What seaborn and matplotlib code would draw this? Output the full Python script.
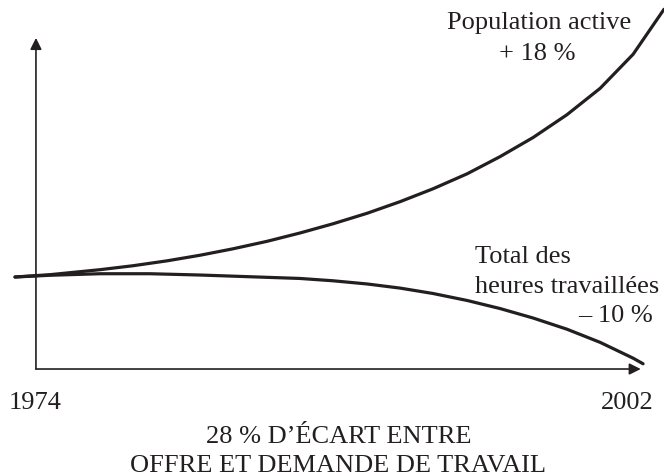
import matplotlib
matplotlib.use("Agg")
import matplotlib.pyplot as plt
import seaborn as sns
import pandas as pd

# values: year vs. % change from 1974 (schematic)
pop_years = [1973.01, 1974.66, 1977.03, 1978.59, 1980.20, 1981.76, 1983.32, 1984.93,
             1986.49, 1988.05, 1989.66, 1991.22, 1992.78, 1994.39, 1995.95, 1997.51,
             1999.11, 2000.68, 2002.24, 2003.70]
pop_values = [0.0, 0.27, 0.85, 1.31, 1.88, 2.53, 3.28, 4.15,
              5.12, 6.19, 7.41, 8.76, 10.26, 12.00, 14.00, 16.22,
              18.87, 21.94, 25.90, 31.13]

hours_years = [1973.01, 1974.66, 1977.03, 1979.39, 1981.76, 1984.12, 1986.49, 1988.05,
               1989.66, 1991.22, 1992.78, 1994.39, 1995.95, 1997.51, 1999.11, 2000.68,
               2002.24, 2002.71]
hours_values = [0.0, 0.20, 0.38, 0.38, 0.23, 0.03, -0.17, -0.44,
                -0.81, -1.29, -1.92, -2.73, -3.67, -4.77, -6.07, -7.60,
                -9.44, -10.09]

year_labels = ["1974", "2002"]
year_ticks = [1974, 2002]

pop = pd.DataFrame({"annee": pop_years, "val": pop_values})
hours = pd.DataFrame({"annee": hours_years, "val": hours_values})

sns.set_style("white")
plt.rcParams['font.family'] = ['Liberation Serif', 'DejaVu Serif']

ink = "#231f20"
fig = plt.figure(figsize=(6.64, 4.76), dpi=100)
ax = fig.add_axes([0, 0, 1, 1])

sns.lineplot(data=pop, x="annee", y="val", ax=ax, color=ink, lw=2.3, sort=False)
sns.lineplot(data=hours, x="annee", y="val", ax=ax, color=ink, lw=2.3, sort=False)

ax.set_xlim(1972.30, 2003.70)
ax.set_ylim(-23.14, 32.21)
ax.axis("off")

# axes drawn as arrows
y0 = -10.7
ax.annotate("", xy=(1974, 27.8), xytext=(1974, y0),
            arrowprops=dict(arrowstyle="-|>", color=ink, lw=1.2,
                            mutation_scale=17, shrinkA=0, shrinkB=0))
ax.annotate("", xy=(2002.6, y0), xytext=(1974, y0),
            arrowprops=dict(arrowstyle="-|>", color=ink, lw=1.2,
                            mutation_scale=17, shrinkA=0, shrinkB=0))

fs = 19
for t, lab in zip(year_ticks, year_labels):
    ax.text(t - 0.05, -15.4, lab, ha="center", va="baseline", fontsize=fs, color=ink)

ax.text(1997.8, 28.84, "Population active", ha="center", va="baseline",
        fontsize=fs, color=ink)
ax.text(1997.7, 25.2, "+ 18 %", ha="center", va="baseline",
        fontsize=fs, color=ink)

ax.text(1994.77, 1.63, "Total des", ha="left", va="baseline", fontsize=fs, color=ink)
ax.text(1994.77, -1.86, "heures travaillées", ha="left", va="baseline",
        fontsize=fs, color=ink)
ax.text(2003.19, -5.23, "– 10 %", ha="right", va="baseline", fontsize=fs, color=ink)

ax.text(1988.3, -19.3, "28 % D’ÉCART ENTRE", ha="center", va="baseline",
        fontsize=fs, color=ink)
ax.text(1988.3, -22.7, "OFFRE ET DEMANDE DE TRAVAIL", ha="center", va="baseline",
        fontsize=fs, color=ink)

fig.savefig("out.png", dpi=100)
